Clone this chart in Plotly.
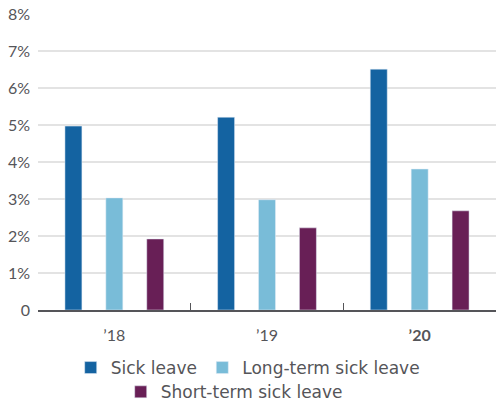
import plotly.graph_objects as go

categories = ["’18", "’19", "’20"]
tick_labels = ["’18", "’19", "<b>’20</b>"]
sick_leave = [4.97, 5.21, 6.51]
long_term = [3.03, 2.98, 3.81]
short_term = [1.92, 2.22, 2.68]
y_ticks = [0, 1, 2, 3, 4, 5, 6, 7, 8]
y_tick_labels = ["0", "1%", "2%", "3%", "4%", "5%", "6%", "7%", "8%"]

colors = ["#1463a1", "#79bcd8", "#681f56"]
FONT = "Lato"
LEGEND_FONT = "DejaVu Sans"
GRAY = "#555559"

fig = go.Figure()
fig.add_trace(go.Bar(x=categories, y=sick_leave, name="Sick leave",
                     marker_color=colors[0], legend="legend"))
fig.add_trace(go.Bar(x=categories, y=long_term, name="Long-term sick leave",
                     marker_color=colors[1], legend="legend2"))
fig.add_trace(go.Bar(x=categories, y=short_term, name="Short-term sick leave",
                     marker_color=colors[2], legend="legend3"))

legend_font = dict(family=LEGEND_FONT, size=17, color=GRAY)
clear = "rgba(0,0,0,0)"
fig.update_layout(
    width=496, height=406,
    margin=dict(l=38, r=0, t=14, b=96, autoexpand=False),
    paper_bgcolor="white", plot_bgcolor="white",
    barmode="group", bargap=0.196, bargroupgap=0.585,
    font=dict(family=FONT, size=15, color=GRAY),
    showlegend=True,
    legend=dict(orientation="h", x=0.0714, xanchor="left", y=-0.196, yanchor="middle",
                font=legend_font, bgcolor=clear),
    legend2=dict(orientation="h", x=0.3587, xanchor="left", y=-0.196, yanchor="middle",
                 font=legend_font, bgcolor=clear),
    legend3=dict(orientation="h", x=0.1806, xanchor="left", y=-0.278, yanchor="middle",
                 font=legend_font, bgcolor=clear),
    xaxis=dict(
        tickmode="array", tickvals=categories, ticktext=tick_labels,
        tickson="boundaries", ticks="inside", ticklen=7, tickcolor=GRAY, tickwidth=1,
        showline=True, linecolor=GRAY, linewidth=1.5, automargin=False,
        range=[-0.5, 2.5], showgrid=False, ticklabelstandoff=10,
        tickfont=dict(size=16, color=GRAY),
    ),
    yaxis=dict(
        range=[0, 8], tickmode="array", tickvals=y_ticks, ticktext=y_tick_labels,
        showgrid=True, gridcolor="#e3e3e3", gridwidth=1.5, automargin=False,
        zeroline=False, ticks="", ticklabelstandoff=7,
        tickfont=dict(size=16, color=GRAY),
    ),
)

fig.write_html("out.html", config={"displayModeBar": False},
               post_script="document.body.style.margin='0';")
